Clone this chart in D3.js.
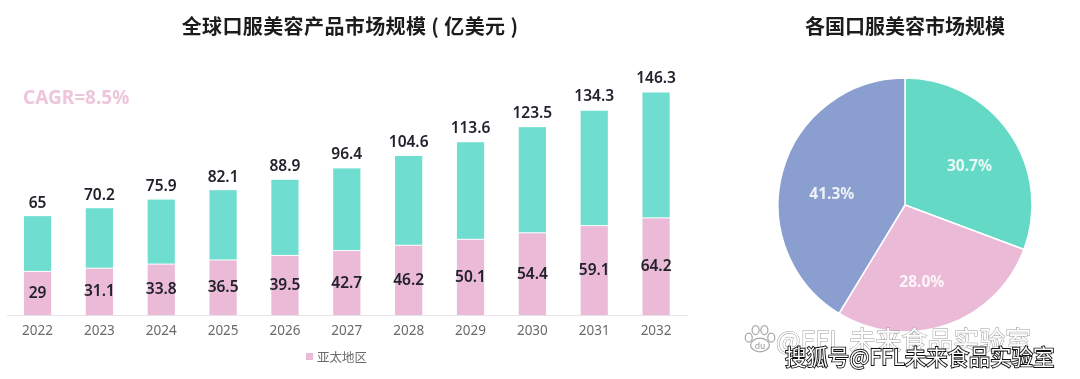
<!DOCTYPE html>
<html>
<head>
<meta charset="utf-8">
<script src="https://cdn.jsdelivr.net/npm/d3@7"></script>
<style>
  html, body { margin: 0; padding: 0; background: #fff; overflow: hidden; }
  svg { display: block; }
  text { font-family: "Noto Sans CJK SC", "Noto Sans", sans-serif; }
</style>
</head>
<body>
<div id="chart"></div>
<script>
// values
const years = ["2022", "2023", "2024", "2025", "2026", "2027", "2028", "2029", "2030", "2031", "2032"];
const totals = [65, 70.2, 75.9, 82.1, 88.9, 96.4, 104.6, 113.6, 123.5, 134.3, 146.3];
const asiaPacific = [29, 31.1, 33.8, 36.5, 39.5, 42.7, 46.2, 50.1, 54.4, 59.1, 64.2];
const pieLabels = ["30.7%", "28.0%", "41.3%"];
const pieValues = [30.7, 28.0, 41.3];
const pieColors = ["#64dac6", "#ebbad6", "#8a9fd0"];

const svg = d3.select("#chart")
  .append("svg")
  .attr("width", 1080)
  .attr("height", 379);

const art = svg.append("g").style("filter", "blur(0.6px)");

// stacked bars
const x = d3.scaleBand().domain(years).range([6.6, 687]).paddingInner(0.56).paddingOuter(0.28);
const y = d3.scaleLinear().domain([0, 146.3]).range([315, 92.5]);

art.selectAll(".total")
  .data(years)
  .join("rect")
  .attr("x", d => x(d))
  .attr("width", x.bandwidth())
  .attr("y", (d, i) => y(totals[i]))
  .attr("height", (d, i) => y(asiaPacific[i]) - y(totals[i]))
  .attr("fill", "#6fded0");

art.selectAll(".asia")
  .data(years)
  .join("rect")
  .attr("x", d => x(d))
  .attr("width", x.bandwidth())
  .attr("y", (d, i) => y(asiaPacific[i]) + 1)
  .attr("height", (d, i) => y(0) - y(asiaPacific[i]) - 1)
  .attr("fill", "#ebbad6");

// axis
const axis = art.append("g")
  .attr("transform", "translate(0,315)")
  .call(d3.axisBottom(x).tickSize(0).tickPadding(10));
axis.select(".domain").attr("stroke", "#e6e4ea").attr("stroke-width", 1.2);
axis.selectAll("text")
  .style("font-family", '"Noto Sans", sans-serif')
  .style("font-size", "13.5px")
  .attr("fill", "#6a6a6a");

// value labels
art.selectAll(".totalLabel")
  .data(years)
  .join("text")
  .attr("x", d => x(d) + x.bandwidth() / 2)
  .attr("y", (d, i) => y(totals[i]) - 8 - i * 0.2)
  .attr("text-anchor", "middle")
  .style("font-family", '"Noto Sans", sans-serif')
  .style("font-size", "15.5px")
  .style("font-weight", 600)
  .attr("fill", "#22222c")
  .text((d, i) => totals[i]);

art.selectAll(".asiaLabel")
  .data(years)
  .join("text")
  .attr("x", d => x(d) + x.bandwidth() / 2)
  .attr("y", (d, i) => (y(asiaPacific[i]) + y(0)) / 2 + 5)
  .attr("text-anchor", "middle")
  .style("font-family", '"Noto Sans", sans-serif')
  .style("font-size", "15.5px")
  .style("font-weight", 600)
  .attr("fill", "#22222c")
  .text((d, i) => asiaPacific[i]);

// titles
art.append("text")
  .attr("x", 350).attr("y", 34)
  .attr("text-anchor", "middle")
  .style("font-size", "20px")
  .style("font-weight", 700)
  .style("letter-spacing", "0.4px")
  .style("white-space", "pre")
  .attr("fill", "#1c1c1c")
  .text("全球口服美容产品市场规模 ( 亿美元 )");

art.append("text")
  .attr("x", 905).attr("y", 34)
  .attr("text-anchor", "middle")
  .style("font-size", "20px")
  .style("font-weight", 700)
  .attr("fill", "#1c1c1c")
  .text("各国口服美容市场规模");

art.append("text")
  .attr("x", 23).attr("y", 104)
  .style("font-family", '"Noto Sans", sans-serif')
  .style("font-size", "19px")
  .style("font-weight", 700)
  .attr("fill", "#edc6dc")
  .text("CAGR=8.5%");

// legend
art.append("rect")
  .attr("x", 306).attr("y", 353)
  .attr("width", 7).attr("height", 7)
  .attr("fill", "#ebbad6");
art.append("text")
  .attr("x", 317).attr("y", 362)
  .style("font-size", "12.5px")
  .attr("fill", "#6a6a6a")
  .text("亚太地区");

// pie
const pie = d3.pie().sort(null).value(d => d)(pieValues);
const arc = d3.arc().innerRadius(0).outerRadius(127);
const labelArc = d3.arc().innerRadius(76).outerRadius(76);
const labelNudge = [[2, 4], [-8, 5], [0, 9]]; // labels sit a bit off the centroid in the original
const pieG = art.append("g").attr("transform", "translate(905,205)");

pieG.selectAll("path")
  .data(pie)
  .join("path")
  .attr("d", arc)
  .attr("fill", (d, i) => pieColors[i])
  .attr("stroke", "#fff")
  .attr("stroke-width", 1.5);

pieG.selectAll("text")
  .data(pie)
  .join("text")
  .attr("transform", (d, i) => {
    const c = labelArc.centroid(d);
    return `translate(${c[0] + labelNudge[i][0]},${c[1] + labelNudge[i][1]})`;
  })
  .attr("text-anchor", "middle")
  .attr("dy", "0.35em")
  .style("font-family", '"Noto Sans", sans-serif')
  .style("font-size", "15.5px")
  .style("font-weight", 700)
  .attr("fill", "#fff")
  .attr("fill-opacity", 0.85)
  .text((d, i) => pieLabels[i]);

// watermarks
const paw = svg.append("g").attr("transform", "translate(760,340) scale(1.25)")
  .attr("fill", "#fff").attr("stroke", "#a8a8a8").attr("stroke-width", 1);
paw.selectAll("ellipse")
  .data([[-9, -2, 2.8, 3.6], [-3.5, -8, 2.8, 3.6], [3.5, -8, 2.8, 3.6], [9, -2, 2.8, 3.6], [0, 4, 7.5, 5.5]])
  .join("ellipse")
  .attr("cx", d => d[0]).attr("cy", d => d[1])
  .attr("rx", d => d[2]).attr("ry", d => d[3]);
paw.append("text")
  .attr("y", 7).attr("text-anchor", "middle")
  .style("font-size", "7px").attr("stroke", "none").attr("fill", "#999")
  .text("du");

svg.append("text")
  .attr("x", 776).attr("y", 350)
  .style("font-size", "26px")
  .attr("fill", "#fff")
  .attr("stroke", "#9a9a9a")
  .attr("stroke-width", 1)
  .attr("paint-order", "stroke")
  .text("@FFL 未来食品实验室");

svg.append("text")
  .attr("x", 785).attr("y", 365)
  .style("font-size", "21.4px")
  .attr("fill", "#fff")
  .attr("stroke", "#111")
  .attr("stroke-width", 1.8)
  .attr("paint-order", "stroke")
  .text("搜狐号@FFL未来食品实验室");
</script>
</body>
</html>
